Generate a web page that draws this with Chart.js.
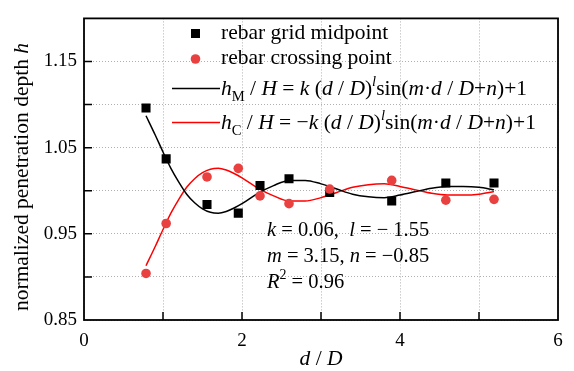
<!DOCTYPE html>
<html>
<head>
<meta charset="utf-8">
<script src="https://cdn.jsdelivr.net/npm/chart.js@4.4.0/dist/chart.umd.min.js"></script>
<style>
  html, body { margin: 0; padding: 0; background: #fff; }
  canvas { display: block; }
</style>
</head>
<body>
<canvas id="c" width="574" height="371"></canvas>
<script>
// measured points
var midX = [0.785, 1.04, 1.557, 1.953, 2.228, 2.595, 3.11, 3.895, 4.58, 5.19];
var midY = [1.096, 1.037, 0.984, 0.974, 1.006, 1.014, 0.998, 0.988, 1.009, 1.009];
var crossX = [0.785, 1.04, 1.557, 1.953, 2.228, 2.595, 3.11, 3.895, 4.58, 5.19];
var crossY = [0.904, 0.962, 1.016, 1.026, 0.994, 0.985, 1.002, 1.012, 0.989, 0.990];

// fitted curves read along d/D
var curveX = [0.785, 0.9, 1.0, 1.1, 1.2, 1.3, 1.4, 1.5, 1.6, 1.7, 1.8, 1.9, 2.0, 2.2, 2.4, 2.6, 2.8, 3.0, 3.2, 3.4, 3.6, 3.8, 4.0, 4.2, 4.4, 4.6, 4.8, 5.0, 5.19];
var curveM = [1.087, 1.065, 1.045, 1.026, 1.010, 0.996, 0.986, 0.979, 0.975, 0.974, 0.976, 0.980, 0.985, 0.997, 1.006, 1.012, 1.012, 1.008, 1.002, 0.996, 0.993, 0.992, 0.995, 0.999, 1.003, 1.005, 1.005, 1.004, 1.001];
var curveC = [0.913, 0.935, 0.955, 0.974, 0.990, 1.004, 1.014, 1.021, 1.025, 1.026, 1.024, 1.020, 1.015, 1.003, 0.994, 0.988, 0.988, 0.992, 0.998, 1.004, 1.007, 1.008, 1.005, 1.001, 0.997, 0.995, 0.995, 0.996, 0.999];

var xTicks = [0, 2, 4, 6];
var yTicks = [0.85, 0.95, 1.05, 1.15];

var SERIF = '"Liberation Serif", "Times New Roman", serif';
var RED = '#e8413f';

function pts(xs, ys) {
  return xs.map(function (x, i) { return { x: x, y: ys[i] }; });
}

// draws a line of mixed italic / sub / sup text, returns width
function runs(ctx, x, y, parts, size, measureOnly) {
  var cx = x;
  parts.forEach(function (p) {
    var sz = size, dy = 0;
    if (p.sub) { sz = size * 0.68; dy = size * 0.28; }
    if (p.sup) { sz = size * 0.68; dy = -size * 0.42; }
    ctx.font = (p.i ? 'italic ' : '') + sz + 'px ' + SERIF;
    if (!measureOnly) ctx.fillText(p.t, cx, y + dy);
    cx += ctx.measureText(p.t).width;
  });
  return cx - x;
}

function formula(sub, neg) {
  return [
    { t: 'h', i: true }, { t: sub, sub: true }, { t: ' / ' }, { t: 'H', i: true },
    { t: neg ? ' = \u2212' : ' = ' }, { t: 'k', i: true }, { t: ' (' }, { t: 'd', i: true },
    { t: ' / ' }, { t: 'D', i: true }, { t: ')' }, { t: 'l', i: true, sup: true },
    { t: 'sin(' }, { t: 'm', i: true }, { t: '\u00b7' }, { t: 'd', i: true }, { t: ' / ' },
    { t: 'D', i: true }, { t: '+' }, { t: 'n', i: true }, { t: ')+1' }
  ];
}

var decor = {
  id: 'decor',
  beforeDatasetsDraw: function (chart) {
    var ctx = chart.ctx, a = chart.chartArea;
    var xs = chart.scales.x, ys = chart.scales.y;
    ctx.save();
    // inward tick marks
    ctx.strokeStyle = '#000';
    ctx.lineWidth = 1.5;
    ctx.beginPath();
    for (var v = 1; v <= 5; v++) {
      var px = xs.getPixelForValue(v);
      ctx.moveTo(px, a.bottom);
      ctx.lineTo(px, a.bottom - 8);
    }
    for (var k = 1; k <= 6; k++) {
      var py = ys.getPixelForValue(0.85 + k * 0.05);
      ctx.moveTo(a.left, py);
      ctx.lineTo(a.left + 8, py);
    }
    ctx.stroke();
    // frame
    ctx.lineWidth = 1.8;
    ctx.strokeRect(a.left, a.top, a.right - a.left, a.bottom - a.top);
    ctx.restore();
  },
  afterDraw: function (chart) {
    var ctx = chart.ctx, a = chart.chartArea;
    ctx.save();
    ctx.fillStyle = '#000';
    ctx.textBaseline = 'alphabetic';
    var fs = 21.5;

    // legend
    ctx.fillRect(191, 29, 9, 9);
    ctx.fillStyle = RED;
    ctx.beginPath();
    ctx.arc(195.5, 59, 4.8, 0, Math.PI * 2);
    ctx.fill();
    ctx.lineWidth = 1.5;
    ctx.strokeStyle = '#000';
    ctx.beginPath(); ctx.moveTo(172, 88.5); ctx.lineTo(220, 88.5); ctx.stroke();
    ctx.strokeStyle = '#ff0000';
    ctx.beginPath(); ctx.moveTo(172, 122.5); ctx.lineTo(220, 122.5); ctx.stroke();
    ctx.fillStyle = '#000';
    runs(ctx, 221, 39, [{ t: 'rebar grid midpoint' }], fs);
    runs(ctx, 221, 64, [{ t: 'rebar crossing point' }], fs);
    runs(ctx, 221, 95, formula('M', false), fs);
    runs(ctx, 221, 129, formula('C', true), fs);

    // fit parameters
    var fp = 20.5;
    runs(ctx, 267, 236, [{ t: 'k', i: true }, { t: ' = 0.06,  ' }, { t: 'l', i: true }, { t: ' = \u2212 1.55' }], fp);
    runs(ctx, 267, 262, [{ t: 'm', i: true }, { t: ' = 3.15, ' }, { t: 'n', i: true }, { t: ' = \u22120.85' }], fp);
    runs(ctx, 267, 288, [{ t: 'R', i: true }, { t: '2', sup: true }, { t: ' = 0.96' }], fp);

    // x axis title
    var xt = [{ t: 'd', i: true }, { t: ' / ' }, { t: 'D', i: true }];
    var w = runs(ctx, 0, 0, xt, fs, true);
    runs(ctx, (a.left + a.right) / 2 - w / 2, 365, xt, fs);

    // y axis title
    var yt = [{ t: 'normalized penetration depth ' }, { t: 'h', i: true }];
    var wy = runs(ctx, 0, 0, yt, fs, true);
    ctx.translate(28, 177);
    ctx.rotate(-Math.PI / 2);
    runs(ctx, -wy / 2, 0, yt, fs);
    ctx.restore();
  }
};

new Chart(document.getElementById('c'), {
  type: 'scatter',
  data: {
    datasets: [
      {
        type: 'line',
        data: pts(curveX, curveM),
        borderColor: '#000',
        borderWidth: 1.5,
        pointRadius: 0,
        cubicInterpolationMode: 'monotone',
        fill: false,
        order: 3
      },
      {
        type: 'line',
        data: pts(curveX, curveC),
        borderColor: '#ff0000',
        borderWidth: 1.5,
        pointRadius: 0,
        cubicInterpolationMode: 'monotone',
        fill: false,
        order: 4
      },
      {
        data: pts(midX, midY),
        pointStyle: 'rect',
        pointRadius: 6.4,
        backgroundColor: '#000',
        borderWidth: 0,
        order: 2
      },
      {
        data: pts(crossX, crossY),
        pointStyle: 'circle',
        pointRadius: 4.8,
        backgroundColor: RED,
        borderWidth: 0,
        order: 1
      }
    ]
  },
  options: {
    responsive: false,
    animation: false,
    layout: { padding: { top: 10, right: 16, left: 0, bottom: 0 } },
    plugins: { legend: { display: false }, tooltip: { enabled: false } },
    scales: {
      x: {
        type: 'linear',
        min: 0,
        max: 6,
        afterFit: function (s) { s.height = 51; },
        ticks: {
          stepSize: 1,
          padding: 10,
          color: '#000',
          font: { family: SERIF, size: 19 },
          callback: function (v) { return xTicks.indexOf(v) >= 0 ? String(v) : ''; }
        },
        grid: { color: '#b0b0b0', lineWidth: 1, drawTicks: false },
        border: { display: false, dash: [1, 2] }
      },
      y: {
        type: 'linear',
        min: 0.85,
        max: 1.2,
        afterFit: function (s) { s.width = 84; },
        ticks: {
          stepSize: 0.05,
          padding: 7,
          color: '#000',
          font: { family: SERIF, size: 19 },
          callback: function (v) {
            var r = Math.round(v * 100) / 100;
            return yTicks.some(function (t) { return Math.abs(t - r) < 1e-6; }) ? r.toFixed(2) : '';
          }
        },
        grid: { color: '#b0b0b0', lineWidth: 1, drawTicks: false },
        border: { display: false, dash: [1, 2] }
      }
    }
  },
  plugins: [decor]
});
</script>
</body>
</html>
